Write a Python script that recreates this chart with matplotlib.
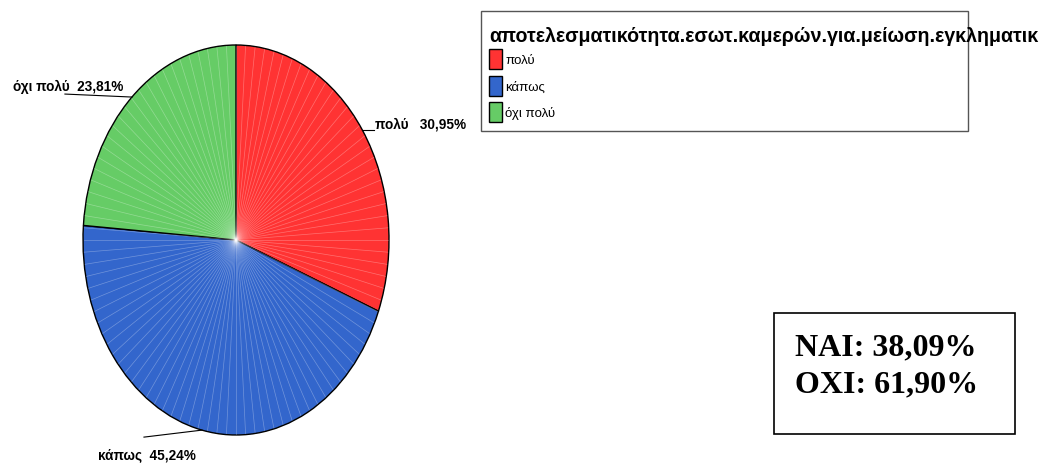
import numpy as np
import matplotlib
matplotlib.use('Agg')
import matplotlib.pyplot as plt
import matplotlib.transforms as mtransforms
from matplotlib.patches import Rectangle

# Data
categories = ['πολύ', 'κάπως', 'όχι πολύ']
percents = [30.95, 45.24, 23.81]
colors = ['#FF3333', '#3366CC', '#66CC66']
legend_title = 'αποτελεσματικότητα.εσωτ.καμερών.για.μείωση.εγκληματικ'
summary_lines = ['NAI: 38,09%', 'OXI: 61,90%']

# label offsets (pixels) from the wedge edge: leader end, text anchor
label_layout = {
    'πολύ': dict(line=(12, 0), text=(13, 0), ha='left', va='bottom'),
    'κάπως': dict(line=(-58, -7), text=(-104, -17), ha='left', va='top'),
    'όχι πολύ': dict(line=(-67, 3), text=(-9, 4), ha='right', va='bottom'),
}

W, H = 1051, 464
fig = plt.figure(figsize=(W / 100, H / 100), dpi=100)
fig.patch.set_facecolor('white')

# pie axes, stretched into an ellipse
px0, py0, px1, py1 = 83, 46, 389, 436
ax = fig.add_axes([px0 / W, 1 - py1 / H, (px1 - px0) / W, (py1 - py0) / H])
wedges, _ = ax.pie(percents, colors=colors, startangle=90, counterclock=False,
                   wedgeprops=dict(edgecolor='black', linewidth=1.0))
ax.set_aspect('auto')
ax.set_xlim(-1, 1)
ax.set_ylim(-1, 1)
ax.axis('off')

# thin radial streaks across the fill
for a in np.arange(0, 360, 3.6):
    t = np.deg2rad(a)
    ax.plot([0, np.cos(t) * 0.995], [0, np.sin(t) * 0.995], color='white',
            lw=0.5, alpha=0.3, zorder=2)

# labels with leader lines
for w, cat, pct in zip(wedges, categories, percents):
    mid = np.deg2rad((w.theta1 + w.theta2) / 2)
    ex, ey = np.cos(mid), np.sin(mid)
    lay = label_layout[cat]
    lx, ly = lay['line']
    line_end = mtransforms.offset_copy(ax.transData, fig=fig, x=lx, y=ly, units='dots')
    end_px = line_end.transform((ex, ey))
    start_px = ax.transData.transform((ex, ey))
    fig.add_artist(plt.Line2D([start_px[0] / W, end_px[0] / W],
                              [start_px[1] / H, end_px[1] / H],
                              color='black', lw=0.8, transform=fig.transFigure))
    tx, ty = lay['text']
    ttrans = mtransforms.offset_copy(ax.transData, fig=fig, x=tx, y=ty, units='dots')
    gap = '   ' if cat == 'πολύ' else '  '
    ax.text(ex, ey, f'{cat}{gap}{pct:.2f}%'.replace('.', ','), transform=ttrans,
            ha=lay['ha'], va=lay['va'], fontsize=9.8, fontweight='bold',
            family='Liberation Sans', clip_on=False)

# legend block
fig.add_artist(Rectangle((481 / W, 1 - 132 / H), (968 - 481) / W, 120 / H,
                         transform=fig.transFigure, facecolor='white',
                         edgecolor='#555555', lw=1.0))
fig.text(489 / W, 1 - 37 / H, legend_title, ha='left', va='center',
         fontsize=14.1, fontweight='bold', family='Liberation Sans')
for i, (cat, col) in enumerate(zip(categories, colors)):
    yc = 60 + i * 26.5
    fig.add_artist(Rectangle((489 / W, 1 - (yc + 10) / H), 13 / W, 20 / H,
                             transform=fig.transFigure, facecolor=col,
                             edgecolor='black', lw=1.0))
    fig.text(505 / W, 1 - (yc + 1) / H, cat, ha='left', va='center',
             fontsize=9.5, family='Liberation Sans')

# summary box
fig.add_artist(Rectangle((774 / W, 1 - 435 / H), (1015 - 774) / W, 121 / H,
                         transform=fig.transFigure, facecolor='white',
                         edgecolor='black', lw=1.2))
for i, s in enumerate(summary_lines):
    fig.text(795 / W, 1 - (355 + i * 37) / H, s, ha='left', va='baseline',
             fontsize=23, fontweight='bold', family='Liberation Serif')

fig.savefig('out.png', dpi=100)
